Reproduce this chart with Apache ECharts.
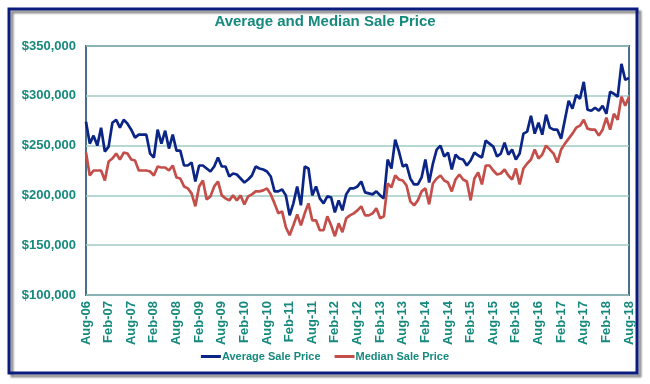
<!DOCTYPE html>
<html>
<head>
<meta charset="utf-8">
<script src="https://cdn.jsdelivr.net/npm/echarts@6/dist/echarts.min.js"></script>
<style>
html,body{margin:0;padding:0;background:#fff;}
#c{width:650px;height:384px;}
</style>
</head>
<body>
<div id="c"></div>
<script>
// Months Aug-06 .. Aug-18
const monthNames = ['Jan','Feb','Mar','Apr','May','Jun','Jul','Aug','Sep','Oct','Nov','Dec'];
const startYear = 2006, startMonth = 7, monthCount = 145;
const categories = [];
for (let k = 0; k < monthCount; k++) {
  const m = (startMonth + k) % 12;
  const y = startYear + Math.floor((startMonth + k) / 12);
  categories.push(monthNames[m] + '-' + String(y % 100).padStart(2, '0'));
}

const averageSalePrice = [
  274,252,260,250,268,244,249,273,276,268,276,272,266,258,261,261,261,242,238,266,
  252,265,247,261,245,245,230,230,233,214,230,230,227,224,229,238,229,229,219,222,
  221,217,213,216,220,229,227,226,224,219,204,204,206,200,180,192,209,190,229,227,
  200,209,197,192,199,198,183,195,185,201,207,207,209,214,203,202,201,204,200,197,
  236,227,256,244,229,231,217,211,211,218,236,213,232,246,250,239,243,226,241,237,
  236,230,235,243,240,238,255,252,249,239,242,253,241,246,236,242,262,264,280,262,
  273,261,281,268,266,266,257,276,295,287,301,297,314,286,285,288,285,290,282,304,
  302,299,332,316,318
].map(v => v * 1000);

const medianSalePrice = [
  243,220,225,225,225,215,234,237,242,236,243,242,236,235,225,225,225,224,220,229,
  228,228,225,230,218,217,209,207,202,189,209,215,196,199,209,214,200,197,195,200,
  195,200,191,199,201,204,204,205,207,201,192,182,184,168,160,170,181,170,182,192,
  175,175,165,165,179,170,159,172,163,177,180,182,185,189,180,180,182,187,177,179,
  212,208,220,216,215,210,194,190,195,204,207,191,212,217,220,215,213,204,216,221,
  216,214,195,217,223,211,230,230,225,221,222,226,220,216,227,211,227,232,236,246,
  237,241,250,246,242,233,246,252,257,262,268,270,276,267,266,266,260,266,278,266,
  282,276,299,290,299
].map(v => v * 1000);

const yTicks = { min: 100000, max: 350000, step: 50000 };

const teal = '#16897d';
const font = 'Liberation Sans, Arial, sans-serif';
const chart = echarts.init(document.getElementById('c'));
chart.setOption({
  animation: false,
  backgroundColor: '#ffffff',
  title: {
    text: 'Average and Median Sale Price',
    left: 'center',
    top: 9,
    textStyle: { color: teal, fontSize: 15, fontWeight: 'bold', fontFamily: font }
  },
  graphic: [{
    type: 'rect',
    shape: { x: 9, y: 9, width: 628, height: 364 },
    style: { fill: 'none', stroke: '#0a1d7c', lineWidth: 3, shadowBlur: 2, shadowColor: 'rgba(0,0,0,0.45)', shadowOffsetX: 3, shadowOffsetY: 3 },
    z: 0, silent: true
  }],
  legend: {
    bottom: 17,
    left: 'center',
    itemWidth: 20,
    itemHeight: 3,
    itemGap: 14,
    icon: 'rect',
    textStyle: { color: teal, fontSize: 11, fontWeight: 'bold', fontFamily: font, padding: [0,0,0,-4] },
    data: ['Average Sale Price', 'Median Sale Price']
  },
  grid: {
    left: 86, right: 21, top: 46, bottom: 89,
    show: true, borderColor: '#4b6f89', borderWidth: 2, backgroundColor: 'transparent'
  },
  xAxis: {
    type: 'category',
    data: categories,
    boundaryGap: false,
    axisLine: { show: false },
    axisTick: { show: false },
    axisLabel: {
      interval: 5,
      rotate: 90,
      color: teal, fontSize: 13, fontWeight: 'bold', fontFamily: font,
      margin: 6
    },
    splitLine: { show: false }
  },
  yAxis: {
    type: 'value',
    min: yTicks.min, max: yTicks.max, interval: yTicks.step,
    axisLine: { show: false },
    axisTick: { show: false },
    axisLabel: {
      color: teal, fontSize: 13, fontWeight: 'bold', fontFamily: font,
      margin: 10,
      formatter: v => '$' + v.toLocaleString('en-US')
    },
    splitLine: { lineStyle: { color: '#9fcac5', width: 1.5 } }
  },
  series: [
    {
      name: 'Average Sale Price', type: 'line', data: averageSalePrice,
      showSymbol: false, lineStyle: { color: '#0b2586', width: 2.7 }, itemStyle: { color: '#0b2586' }
    },
    {
      name: 'Median Sale Price', type: 'line', data: medianSalePrice,
      showSymbol: false, lineStyle: { color: '#c44e4a', width: 2.7 }, itemStyle: { color: '#c44e4a' }
    }
  ]
});
</script>
</body>
</html>
